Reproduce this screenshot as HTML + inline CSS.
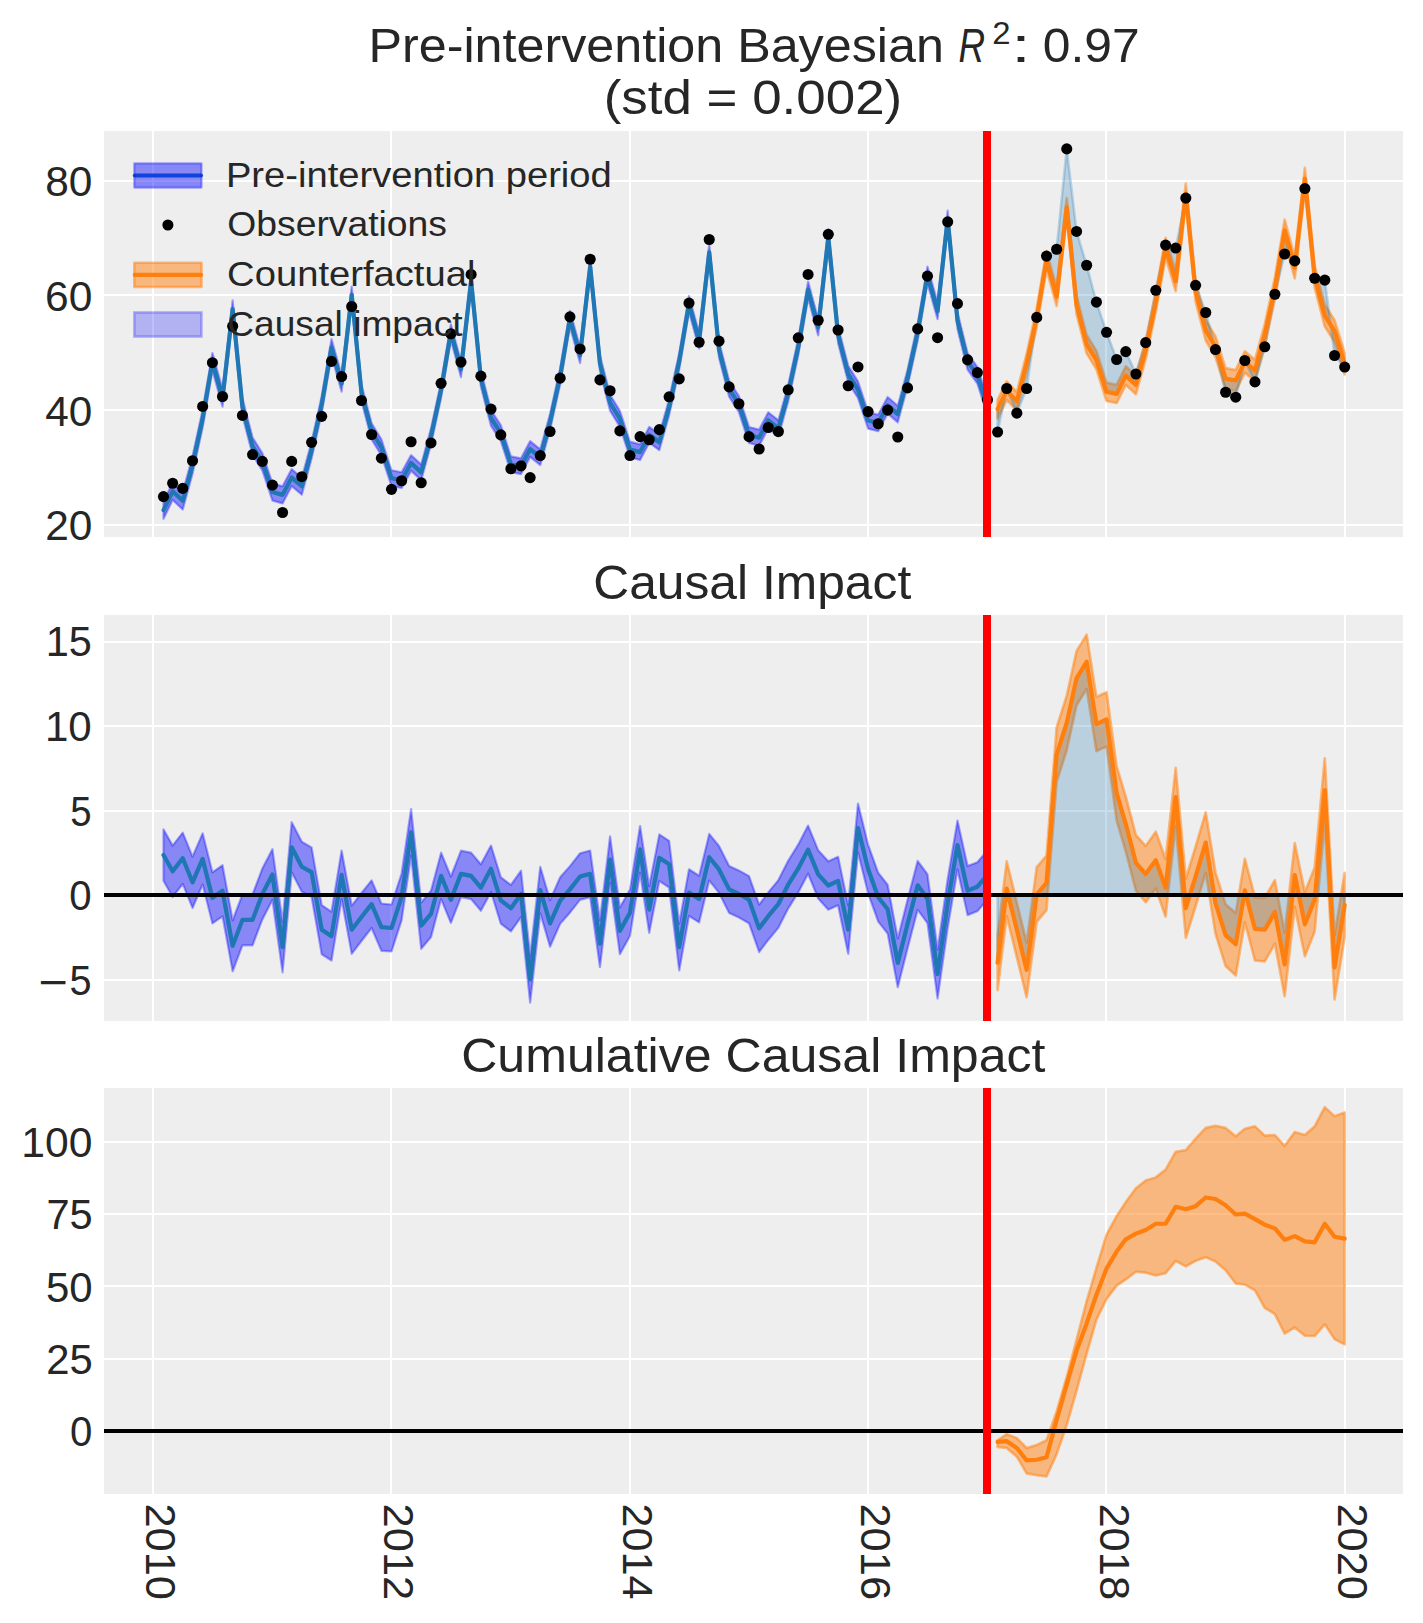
<!DOCTYPE html>
<html><head><meta charset="utf-8"><title>Causal Impact</title>
<style>html,body{margin:0;padding:0;background:#ffffff;width:1423px;height:1623px;overflow:hidden}
svg text{font-family:"Liberation Sans",sans-serif}</style></head>
<body>
<svg width="1423" height="1623" viewBox="0 0 1423 1623" style="display:block">
<defs>
<clipPath id="c0"><rect x="104.0" y="131.0" width="1299.0" height="406.0"/></clipPath>
<clipPath id="c1"><rect x="104.0" y="615.0" width="1299.0" height="406.0"/></clipPath>
<clipPath id="c2"><rect x="104.0" y="1088.0" width="1299.0" height="406.0"/></clipPath>
</defs>
<rect x="0" y="0" width="1423" height="1623" fill="#ffffff"/>
<rect x="104.0" y="131.0" width="1299.0" height="406.0" fill="#eeeeee"/>
<line x1="104.0" x2="1403.0" y1="525.00" y2="525.00" stroke="#ffffff" stroke-width="2"/>
<line x1="104.0" x2="1403.0" y1="410.00" y2="410.00" stroke="#ffffff" stroke-width="2"/>
<line x1="104.0" x2="1403.0" y1="295.00" y2="295.00" stroke="#ffffff" stroke-width="2"/>
<line x1="104.0" x2="1403.0" y1="181.00" y2="181.00" stroke="#ffffff" stroke-width="2"/>
<line x1="153.00" x2="153.00" y1="131.0" y2="537.0" stroke="#ffffff" stroke-width="2"/>
<line x1="391.00" x2="391.00" y1="131.0" y2="537.0" stroke="#ffffff" stroke-width="2"/>
<line x1="630.00" x2="630.00" y1="131.0" y2="537.0" stroke="#ffffff" stroke-width="2"/>
<line x1="868.00" x2="868.00" y1="131.0" y2="537.0" stroke="#ffffff" stroke-width="2"/>
<line x1="1106.00" x2="1106.00" y1="131.0" y2="537.0" stroke="#ffffff" stroke-width="2"/>
<line x1="1345.00" x2="1345.00" y1="131.0" y2="537.0" stroke="#ffffff" stroke-width="2"/>
<g clip-path="url(#c0)">
<polygon points="163.49,501.40 172.63,482.61 182.74,492.14 192.52,456.32 202.64,409.97 212.42,353.06 222.53,389.30 232.65,300.41 242.43,398.37 252.55,437.53 262.33,453.13 272.44,483.40 282.56,486.32 291.69,469.07 301.80,477.83 311.59,441.72 321.70,396.26 331.49,339.17 341.60,375.16 351.71,286.60 361.50,384.95 371.61,423.30 381.40,439.28 391.51,470.23 401.62,472.23 411.08,455.15 421.19,464.55 430.98,428.66 441.09,381.95 450.88,324.28 460.99,361.42 471.10,273.04 480.89,370.82 491.00,410.14 500.79,425.21 510.90,456.39 521.01,458.34 530.14,441.14 540.26,449.33 550.04,413.97 560.15,368.40 569.94,310.85 580.05,347.30 590.17,258.52 599.95,355.49 610.06,394.87 619.85,410.86 629.96,441.64 640.07,444.21 649.21,426.90 659.32,434.35 669.11,399.33 679.22,353.36 689.00,295.98 699.12,332.95 709.23,244.34 719.02,341.86 729.13,380.82 738.91,396.15 749.03,427.02 759.14,429.63 768.27,412.24 778.38,420.36 788.17,385.20 798.28,338.69 808.07,281.63 818.18,319.09 828.29,229.31 838.08,326.55 848.19,365.79 857.98,381.38 868.09,412.15 878.20,414.73 887.66,397.01 897.78,405.78 907.56,369.78 917.67,323.86 927.46,266.60 937.57,302.65 947.68,210.71 957.47,312.27 967.58,353.02 977.37,367.11 987.48,398.29 987.48,414.91 977.37,383.73 967.58,369.62 957.47,328.87 947.68,227.30 937.57,319.23 927.46,283.17 917.67,340.43 907.56,386.33 897.78,422.33 887.66,413.55 878.20,431.26 868.09,428.67 857.98,397.89 848.19,382.30 838.08,343.01 828.29,245.72 818.18,335.45 808.07,297.94 798.28,354.95 788.17,401.41 778.38,436.52 768.27,428.36 759.14,445.70 749.03,443.04 738.91,412.12 729.13,396.73 719.02,357.73 709.23,260.15 699.12,348.76 689.00,311.79 679.22,369.17 669.11,415.13 659.32,450.15 649.21,442.70 640.07,460.01 629.96,457.42 619.85,426.64 610.06,410.65 599.95,371.27 590.17,274.29 580.05,363.07 569.94,326.62 560.15,384.16 550.04,429.73 540.26,465.09 530.14,456.89 521.01,474.08 510.90,472.13 500.79,440.95 491.00,425.87 480.89,386.55 471.10,288.77 460.99,377.15 450.88,340.01 441.09,397.66 430.98,444.38 421.19,480.25 411.08,470.85 401.62,488.04 391.51,486.15 381.40,455.31 371.61,439.43 361.50,401.19 351.71,302.95 341.60,391.61 331.49,355.73 321.70,412.93 311.59,458.49 301.80,494.71 291.69,486.05 282.56,503.41 272.44,500.60 262.33,470.35 252.55,454.77 242.43,415.63 232.65,317.69 222.53,406.59 212.42,370.38 202.64,427.31 192.52,473.69 182.74,509.52 172.63,500.02 163.49,518.83" fill="rgba(0,0,255,0.43)" stroke="rgba(0,0,255,0.34)" stroke-width="2.2" stroke-linejoin="round"/>
<polygon points="997.59,399.84 1006.73,381.36 1016.84,392.06 1026.63,353.90 1036.74,308.34 1046.52,250.97 1056.64,287.49 1066.75,197.98 1076.53,295.60 1086.65,335.04 1096.43,350.87 1106.55,382.63 1116.66,384.70 1125.79,366.30 1135.90,375.47 1145.69,340.21 1155.80,292.46 1165.59,237.72 1175.70,271.36 1185.81,183.61 1195.60,281.44 1205.71,320.01 1215.50,336.46 1225.61,368.15 1235.72,369.92 1244.86,351.29 1254.97,359.70 1264.75,324.32 1274.87,277.76 1284.65,219.68 1294.76,256.86 1304.88,167.83 1314.66,265.82 1324.78,304.78 1334.56,320.13 1344.67,352.78 1344.67,374.56 1334.56,341.87 1324.78,326.49 1314.66,287.50 1304.88,189.47 1294.76,278.47 1284.65,241.25 1274.87,299.30 1264.75,345.82 1254.97,381.17 1244.86,372.73 1235.72,391.12 1225.61,389.11 1215.50,357.18 1205.71,340.50 1195.60,301.69 1185.81,203.61 1175.70,291.13 1165.59,257.25 1155.80,311.76 1145.69,359.27 1135.90,394.29 1125.79,384.88 1116.66,403.05 1106.55,400.99 1096.43,369.25 1086.65,353.44 1076.53,314.01 1066.75,216.41 1056.64,305.95 1046.52,269.45 1036.74,326.83 1026.63,372.41 1016.84,410.59 1006.73,399.91 997.59,418.41" fill="rgba(255,127,14,0.5)" stroke="rgba(255,127,14,0.5)" stroke-width="2.6" stroke-linejoin="round"/>
<polygon points="997.59,432.05 1006.73,388.49 1016.84,413.13 1026.63,388.49 1036.74,317.41 1046.52,256.09 1056.64,249.21 1066.75,148.90 1076.53,231.44 1086.65,265.26 1096.43,302.17 1106.55,332.32 1116.66,359.49 1125.79,351.58 1135.90,373.99 1145.69,342.63 1155.80,290.30 1165.59,245.08 1175.70,248.06 1185.81,198.08 1195.60,285.32 1205.71,312.49 1215.50,349.57 1225.61,392.21 1235.72,397.20 1244.86,360.46 1254.97,381.90 1264.75,346.82 1274.87,294.26 1284.65,253.96 1294.76,260.90 1304.88,188.57 1314.66,278.21 1324.78,280.16 1334.56,355.53 1344.67,367.05 1344.67,363.67 1334.56,331.00 1324.78,315.64 1314.66,276.66 1304.88,178.65 1294.76,267.66 1284.65,230.46 1274.87,288.53 1264.75,335.07 1254.97,370.43 1244.86,362.01 1235.72,380.52 1225.61,378.63 1215.50,346.82 1205.71,330.25 1195.60,291.56 1185.81,193.61 1175.70,281.25 1165.59,247.49 1155.80,302.11 1145.69,349.74 1135.90,384.88 1125.79,375.59 1116.66,393.88 1106.55,391.81 1096.43,360.06 1086.65,344.24 1076.53,304.80 1066.75,207.19 1056.64,296.72 1046.52,260.21 1036.74,317.59 1026.63,363.15 1016.84,401.33 1006.73,390.64 997.59,409.12" fill="rgba(31,119,180,0.25)" stroke="rgba(31,119,180,0.25)" stroke-width="2.6" stroke-linejoin="round"/>
<polyline points="163.49,510.11 172.63,491.31 182.74,500.83 192.52,465.01 202.64,418.64 212.42,361.72 222.53,397.94 232.65,309.05 242.43,407.00 252.55,446.15 262.33,461.74 272.44,492.00 282.56,494.87 291.69,477.56 301.80,486.27 311.59,450.10 321.70,404.59 331.49,347.45 341.60,383.39 351.71,294.77 361.50,393.07 371.61,431.36 381.40,447.29 391.51,478.19 401.62,480.14 411.08,463.00 421.19,472.40 430.98,436.52 441.09,389.81 450.88,332.14 460.99,369.29 471.10,280.90 480.89,378.69 491.00,418.01 500.79,433.08 510.90,464.26 521.01,466.21 530.14,449.01 540.26,457.21 550.04,421.85 560.15,376.28 569.94,318.73 580.05,355.19 590.17,266.40 599.95,363.38 610.06,402.76 619.85,418.75 629.96,449.53 640.07,452.11 649.21,434.80 659.32,442.25 669.11,407.23 679.22,361.26 689.00,303.89 699.12,340.86 709.23,252.25 719.02,349.80 729.13,388.77 738.91,404.14 749.03,435.03 759.14,437.67 768.27,420.30 778.38,428.44 788.17,393.30 798.28,346.82 808.07,289.79 818.18,327.27 828.29,237.51 838.08,334.78 848.19,374.04 857.98,389.63 868.09,420.41 878.20,422.99 887.66,405.28 897.78,414.05 907.56,378.06 917.67,332.14 927.46,274.89 937.57,310.94 947.68,219.00 957.47,320.57 967.58,361.32 977.37,375.42 987.48,406.60" fill="none" stroke="#1f77b4" stroke-width="4.2" stroke-linejoin="round" stroke-linecap="round"/>
<g fill="#000000"><circle cx="163.49" cy="496.59" r="5.55"/><circle cx="172.63" cy="483.29" r="5.55"/><circle cx="182.74" cy="488.39" r="5.55"/><circle cx="192.52" cy="460.71" r="5.55"/><circle cx="202.64" cy="406.43" r="5.55"/><circle cx="212.42" cy="362.69" r="5.55"/><circle cx="222.53" cy="396.51" r="5.55"/><circle cx="232.65" cy="326.24" r="5.55"/><circle cx="242.43" cy="415.43" r="5.55"/><circle cx="252.55" cy="454.57" r="5.55"/><circle cx="262.33" cy="461.39" r="5.55"/><circle cx="272.44" cy="485.07" r="5.55"/><circle cx="282.56" cy="512.52" r="5.55"/><circle cx="291.69" cy="461.39" r="5.55"/><circle cx="301.80" cy="476.70" r="5.55"/><circle cx="311.59" cy="442.37" r="5.55"/><circle cx="321.70" cy="416.34" r="5.55"/><circle cx="331.49" cy="361.38" r="5.55"/><circle cx="341.60" cy="376.57" r="5.55"/><circle cx="351.71" cy="306.52" r="5.55"/><circle cx="361.50" cy="400.52" r="5.55"/><circle cx="371.61" cy="434.46" r="5.55"/><circle cx="381.40" cy="458.19" r="5.55"/><circle cx="391.51" cy="489.37" r="5.55"/><circle cx="401.62" cy="480.77" r="5.55"/><circle cx="411.08" cy="441.79" r="5.55"/><circle cx="421.19" cy="482.77" r="5.55"/><circle cx="430.98" cy="442.94" r="5.55"/><circle cx="441.09" cy="383.33" r="5.55"/><circle cx="450.88" cy="333.75" r="5.55"/><circle cx="460.99" cy="362.12" r="5.55"/><circle cx="471.10" cy="274.43" r="5.55"/><circle cx="480.89" cy="376.16" r="5.55"/><circle cx="491.00" cy="409.12" r="5.55"/><circle cx="500.79" cy="434.91" r="5.55"/><circle cx="510.90" cy="468.73" r="5.55"/><circle cx="521.01" cy="465.87" r="5.55"/><circle cx="530.14" cy="477.62" r="5.55"/><circle cx="540.26" cy="455.55" r="5.55"/><circle cx="550.04" cy="431.48" r="5.55"/><circle cx="560.15" cy="378.17" r="5.55"/><circle cx="569.94" cy="316.84" r="5.55"/><circle cx="580.05" cy="348.94" r="5.55"/><circle cx="590.17" cy="259.24" r="5.55"/><circle cx="599.95" cy="379.89" r="5.55"/><circle cx="610.06" cy="390.78" r="5.55"/><circle cx="619.85" cy="430.90" r="5.55"/><circle cx="629.96" cy="455.55" r="5.55"/><circle cx="640.07" cy="436.63" r="5.55"/><circle cx="649.21" cy="439.73" r="5.55"/><circle cx="659.32" cy="429.64" r="5.55"/><circle cx="669.11" cy="396.80" r="5.55"/><circle cx="679.22" cy="378.92" r="5.55"/><circle cx="689.00" cy="303.09" r="5.55"/><circle cx="699.12" cy="342.23" r="5.55"/><circle cx="709.23" cy="239.46" r="5.55"/><circle cx="719.02" cy="341.14" r="5.55"/><circle cx="729.13" cy="386.88" r="5.55"/><circle cx="738.91" cy="403.79" r="5.55"/><circle cx="749.03" cy="436.63" r="5.55"/><circle cx="759.14" cy="448.96" r="5.55"/><circle cx="768.27" cy="427.46" r="5.55"/><circle cx="778.38" cy="431.48" r="5.55"/><circle cx="788.17" cy="389.81" r="5.55"/><circle cx="798.28" cy="337.82" r="5.55"/><circle cx="808.07" cy="274.43" r="5.55"/><circle cx="818.18" cy="320.28" r="5.55"/><circle cx="828.29" cy="234.30" r="5.55"/><circle cx="838.08" cy="330.02" r="5.55"/><circle cx="848.19" cy="385.74" r="5.55"/><circle cx="857.98" cy="366.94" r="5.55"/><circle cx="868.09" cy="411.59" r="5.55"/><circle cx="878.20" cy="423.74" r="5.55"/><circle cx="887.66" cy="410.10" r="5.55"/><circle cx="897.78" cy="437.04" r="5.55"/><circle cx="907.56" cy="387.91" r="5.55"/><circle cx="917.67" cy="328.88" r="5.55"/><circle cx="927.46" cy="276.15" r="5.55"/><circle cx="937.57" cy="337.70" r="5.55"/><circle cx="947.68" cy="221.87" r="5.55"/><circle cx="957.47" cy="303.66" r="5.55"/><circle cx="967.58" cy="359.83" r="5.55"/><circle cx="977.37" cy="372.61" r="5.55"/><circle cx="987.48" cy="399.78" r="5.55"/></g>
<polyline points="997.59,409.12 1006.73,390.64 1016.84,401.33 1026.63,363.15 1036.74,317.59 1046.52,260.21 1056.64,296.72 1066.75,207.19 1076.53,304.80 1086.65,344.24 1096.43,360.06 1106.55,391.81 1116.66,393.88 1125.79,375.59 1135.90,384.88 1145.69,349.74 1155.80,302.11 1165.59,247.49 1175.70,281.25 1185.81,193.61 1195.60,291.56 1205.71,330.25 1215.50,346.82 1225.61,378.63 1235.72,380.52 1244.86,362.01 1254.97,370.43 1264.75,335.07 1274.87,288.53 1284.65,230.46 1294.76,267.66 1304.88,178.65 1314.66,276.66 1324.78,315.64 1334.56,331.00 1344.67,363.67" fill="none" stroke="#ff7f0e" stroke-width="4.2" stroke-linejoin="round" stroke-linecap="round"/>
<g fill="#000000"><circle cx="997.59" cy="432.05" r="5.55"/><circle cx="1006.73" cy="388.49" r="5.55"/><circle cx="1016.84" cy="413.13" r="5.55"/><circle cx="1026.63" cy="388.49" r="5.55"/><circle cx="1036.74" cy="317.41" r="5.55"/><circle cx="1046.52" cy="256.09" r="5.55"/><circle cx="1056.64" cy="249.21" r="5.55"/><circle cx="1066.75" cy="148.90" r="5.55"/><circle cx="1076.53" cy="231.44" r="5.55"/><circle cx="1086.65" cy="265.26" r="5.55"/><circle cx="1096.43" cy="302.17" r="5.55"/><circle cx="1106.55" cy="332.32" r="5.55"/><circle cx="1116.66" cy="359.49" r="5.55"/><circle cx="1125.79" cy="351.58" r="5.55"/><circle cx="1135.90" cy="373.99" r="5.55"/><circle cx="1145.69" cy="342.63" r="5.55"/><circle cx="1155.80" cy="290.30" r="5.55"/><circle cx="1165.59" cy="245.08" r="5.55"/><circle cx="1175.70" cy="248.06" r="5.55"/><circle cx="1185.81" cy="198.08" r="5.55"/><circle cx="1195.60" cy="285.32" r="5.55"/><circle cx="1205.71" cy="312.49" r="5.55"/><circle cx="1215.50" cy="349.57" r="5.55"/><circle cx="1225.61" cy="392.21" r="5.55"/><circle cx="1235.72" cy="397.20" r="5.55"/><circle cx="1244.86" cy="360.46" r="5.55"/><circle cx="1254.97" cy="381.90" r="5.55"/><circle cx="1264.75" cy="346.82" r="5.55"/><circle cx="1274.87" cy="294.26" r="5.55"/><circle cx="1284.65" cy="253.96" r="5.55"/><circle cx="1294.76" cy="260.90" r="5.55"/><circle cx="1304.88" cy="188.57" r="5.55"/><circle cx="1314.66" cy="278.21" r="5.55"/><circle cx="1324.78" cy="280.16" r="5.55"/><circle cx="1334.56" cy="355.53" r="5.55"/><circle cx="1344.67" cy="367.05" r="5.55"/></g>
<line x1="987.00" x2="987.00" y1="131.0" y2="537.0" stroke="#ff0000" stroke-width="8"/>
</g>
<line x1="134.8" x2="201.0" y1="175.5" y2="175.5" stroke="#1f77b4" stroke-width="4.2" stroke-linecap="round"/>
<rect x="134.3" y="163.4" width="67.20000000000002" height="24.2" fill="rgba(0,0,255,0.43)" stroke="rgba(0,0,255,0.34)" stroke-width="2.2" stroke-linejoin="round"/>
<circle cx="167.9" cy="225.0" r="5.55" fill="#000000"/>
<line x1="134.8" x2="201.0" y1="274.9" y2="274.9" stroke="#ff7f0e" stroke-width="4.2" stroke-linecap="round"/>
<rect x="134.3" y="262.79999999999995" width="67.20000000000002" height="24.2" fill="rgba(255,127,14,0.5)" stroke="rgba(255,127,14,0.5)" stroke-width="2.6" stroke-linejoin="round"/>
<rect x="134.3" y="312.4" width="67.20000000000002" height="24.2" fill="rgba(0,0,255,0.25)" stroke="rgba(0,0,255,0.25)" stroke-width="2.6"/>
<g font-family="Liberation Sans, sans-serif" fill="#262626">
<text x="225.93" y="186.50" font-size="35.8" textLength="385.82" lengthAdjust="spacingAndGlyphs">Pre-intervention period</text>
<text x="227.30" y="235.70" font-size="35.8" textLength="219.70" lengthAdjust="spacingAndGlyphs">Observations</text>
<text x="227.13" y="285.80" font-size="35.8" textLength="248.29" lengthAdjust="spacingAndGlyphs">Counterfactual</text>
<text x="227.18" y="335.50" font-size="35.8" textLength="235.39" lengthAdjust="spacingAndGlyphs">Causal impact</text>
</g>
<rect x="104.0" y="615.0" width="1299.0" height="406.0" fill="#eeeeee"/>
<line x1="104.0" x2="1403.0" y1="980.00" y2="980.00" stroke="#ffffff" stroke-width="2"/>
<line x1="104.0" x2="1403.0" y1="895.00" y2="895.00" stroke="#ffffff" stroke-width="2"/>
<line x1="104.0" x2="1403.0" y1="811.00" y2="811.00" stroke="#ffffff" stroke-width="2"/>
<line x1="104.0" x2="1403.0" y1="726.00" y2="726.00" stroke="#ffffff" stroke-width="2"/>
<line x1="104.0" x2="1403.0" y1="642.00" y2="642.00" stroke="#ffffff" stroke-width="2"/>
<line x1="153.00" x2="153.00" y1="615.0" y2="1021.0" stroke="#ffffff" stroke-width="2"/>
<line x1="391.00" x2="391.00" y1="615.0" y2="1021.0" stroke="#ffffff" stroke-width="2"/>
<line x1="630.00" x2="630.00" y1="615.0" y2="1021.0" stroke="#ffffff" stroke-width="2"/>
<line x1="868.00" x2="868.00" y1="615.0" y2="1021.0" stroke="#ffffff" stroke-width="2"/>
<line x1="1106.00" x2="1106.00" y1="615.0" y2="1021.0" stroke="#ffffff" stroke-width="2"/>
<line x1="1345.00" x2="1345.00" y1="615.0" y2="1021.0" stroke="#ffffff" stroke-width="2"/>
<g clip-path="url(#c1)">
<polygon points="163.49,829.33 172.63,845.61 182.74,832.61 192.52,856.67 202.64,833.35 212.42,872.31 222.53,865.23 232.65,920.26 242.43,894.40 252.55,894.43 262.33,868.57 272.44,849.13 282.56,921.90 291.69,822.20 301.80,841.82 311.59,847.39 321.70,905.09 331.49,911.68 341.60,850.57 351.71,905.57 361.50,893.03 371.61,880.32 381.40,903.50 391.51,904.50 401.62,873.52 411.08,809.19 421.19,902.44 430.98,890.76 441.09,852.67 450.88,876.53 460.99,850.63 471.10,852.65 480.89,864.33 491.00,845.53 500.79,877.18 510.90,884.96 521.01,870.74 530.14,956.20 540.26,866.83 550.04,900.17 560.15,877.31 569.94,866.14 580.05,853.27 590.17,850.55 599.95,920.45 610.06,836.33 619.85,907.58 629.96,889.46 640.07,825.99 649.21,886.23 659.32,834.44 669.11,840.86 679.22,923.79 689.00,869.29 699.12,875.71 709.23,833.90 719.02,846.01 729.13,865.91 738.91,870.41 749.03,876.09 759.14,904.62 768.27,892.36 778.38,880.11 788.17,860.74 798.28,844.42 808.07,825.56 818.18,850.20 828.29,861.30 838.08,856.65 848.19,905.15 857.98,803.59 868.09,844.54 878.20,872.79 887.66,884.80 897.78,938.44 907.56,899.67 917.67,860.90 927.46,874.25 937.57,949.56 947.68,878.97 957.47,820.57 967.58,866.08 977.37,862.18 987.48,850.32 987.48,899.40 977.37,911.24 967.58,915.12 957.47,869.58 947.68,927.96 937.57,998.52 927.46,923.19 917.67,909.81 907.56,948.56 897.78,987.30 887.66,933.64 878.20,921.61 868.09,893.33 857.98,852.36 848.19,953.90 838.08,905.25 828.29,909.75 818.18,898.51 808.07,873.72 798.28,892.44 788.17,908.61 778.38,927.83 768.27,939.95 759.14,952.06 749.03,923.39 738.91,917.56 729.13,912.92 719.02,892.87 709.23,880.61 699.12,922.41 689.00,915.98 679.22,970.47 669.11,887.53 659.32,881.09 649.21,932.88 640.07,872.62 629.96,936.08 619.85,954.19 610.06,882.93 599.95,967.04 590.17,897.13 580.05,899.83 569.94,912.69 560.15,923.86 550.04,946.70 540.26,913.35 530.14,1002.71 521.01,917.23 510.90,931.45 500.79,923.65 491.00,892.00 480.89,910.78 471.10,899.10 460.99,897.06 450.88,922.95 441.09,899.08 430.98,937.15 421.19,948.83 411.08,855.56 401.62,920.21 391.51,951.51 381.40,950.82 371.61,927.96 361.50,940.98 351.71,953.83 341.60,899.15 331.49,960.57 321.70,954.30 311.59,896.91 301.80,891.65 291.69,872.34 282.56,972.36 272.44,899.91 262.33,919.40 252.55,945.33 242.43,945.36 232.65,971.29 222.53,916.31 212.42,923.45 202.64,884.55 192.52,907.94 182.74,883.94 172.63,897.00 163.49,880.78" fill="rgba(0,0,255,0.43)" stroke="rgba(0,0,255,0.34)" stroke-width="2.2" stroke-linejoin="round"/>
<polygon points="997.59,935.28 1006.73,861.26 1016.84,902.50 1026.63,942.47 1036.74,867.19 1046.52,855.54 1056.64,727.44 1066.75,695.65 1076.53,651.17 1086.65,634.61 1096.43,696.92 1106.55,692.21 1116.66,766.37 1125.79,796.65 1135.90,835.06 1145.69,845.88 1155.80,831.65 1165.59,859.05 1175.70,767.82 1185.81,878.66 1195.60,846.66 1205.71,812.29 1215.50,872.53 1225.61,904.17 1235.72,912.95 1244.86,858.78 1254.97,897.15 1264.75,897.94 1274.87,880.12 1284.65,932.54 1294.76,843.12 1304.88,892.33 1314.66,867.56 1324.78,758.18 1334.56,935.33 1344.67,872.83 1344.67,937.14 1334.56,999.55 1324.78,822.29 1314.66,931.57 1304.88,956.23 1294.76,906.93 1284.65,996.25 1274.87,943.73 1264.75,961.45 1254.97,960.55 1244.86,922.08 1235.72,975.55 1225.61,966.06 1215.50,933.72 1205.71,872.78 1195.60,906.44 1185.81,937.74 1175.70,826.19 1165.59,916.73 1155.80,888.62 1145.69,902.15 1135.90,890.63 1125.79,851.52 1116.66,820.53 1106.55,746.43 1096.43,751.19 1086.65,688.94 1076.53,705.55 1066.75,750.09 1056.64,781.94 1046.52,910.09 1036.74,921.80 1026.63,997.14 1016.84,957.23 1006.73,916.04 997.59,990.12" fill="rgba(255,127,14,0.5)" stroke="rgba(255,127,14,0.5)" stroke-width="2.6" stroke-linejoin="round"/>
<polygon points="997.59,962.70 1006.73,888.65 1016.84,929.87 1026.63,969.81 1036.74,894.49 1046.52,882.81 1056.64,754.69 1066.75,722.87 1076.53,678.36 1086.65,661.77 1096.43,724.06 1106.55,719.32 1116.66,793.45 1125.79,824.08 1135.90,862.84 1145.69,874.01 1155.80,860.13 1165.59,887.89 1175.70,797.00 1185.81,908.20 1195.60,876.55 1205.71,842.53 1215.50,903.12 1225.61,935.11 1235.72,944.25 1244.86,890.43 1254.97,928.85 1264.75,929.70 1274.87,911.92 1284.65,964.39 1294.76,875.03 1304.88,924.28 1314.66,899.57 1324.78,790.23 1334.56,967.44 1344.67,904.99 1344.67,895.00 1334.56,895.00 1324.78,895.00 1314.66,895.00 1304.88,895.00 1294.76,895.00 1284.65,895.00 1274.87,895.00 1264.75,895.00 1254.97,895.00 1244.86,895.00 1235.72,895.00 1225.61,895.00 1215.50,895.00 1205.71,895.00 1195.60,895.00 1185.81,895.00 1175.70,895.00 1165.59,895.00 1155.80,895.00 1145.69,895.00 1135.90,895.00 1125.79,895.00 1116.66,895.00 1106.55,895.00 1096.43,895.00 1086.65,895.00 1076.53,895.00 1066.75,895.00 1056.64,895.00 1046.52,895.00 1036.74,895.00 1026.63,895.00 1016.84,895.00 1006.73,895.00 997.59,895.00" fill="rgba(31,119,180,0.25)" stroke="rgba(31,119,180,0.25)" stroke-width="2.6" stroke-linejoin="round"/>
<polyline points="163.49,855.06 172.63,871.30 182.74,858.27 192.52,882.31 202.64,858.95 212.42,897.88 222.53,890.77 232.65,945.77 242.43,919.88 252.55,919.88 262.33,893.98 272.44,874.52 282.56,947.13 291.69,847.27 301.80,866.74 311.59,872.15 321.70,929.70 331.49,936.13 341.60,874.86 351.71,929.70 361.50,917.00 371.61,904.14 381.40,927.16 391.51,928.00 401.62,896.86 411.08,832.38 421.19,925.63 430.98,913.96 441.09,875.87 450.88,899.74 460.99,873.84 471.10,875.87 480.89,887.55 491.00,868.77 500.79,900.42 510.90,908.20 521.01,893.98 530.14,979.46 540.26,890.09 550.04,923.43 560.15,900.59 569.94,889.41 580.05,876.55 590.17,873.84 599.95,943.74 610.06,859.63 619.85,930.88 629.96,912.77 640.07,849.30 649.21,909.56 659.32,857.76 669.11,864.20 679.22,947.13 689.00,892.63 699.12,899.06 709.23,857.26 719.02,869.44 729.13,889.41 738.91,893.98 749.03,899.74 759.14,928.34 768.27,916.16 778.38,903.97 788.17,884.68 798.28,868.43 808.07,849.64 818.18,874.35 828.29,885.52 838.08,880.95 848.19,929.53 857.98,827.98 868.09,868.94 878.20,897.20 887.66,909.22 897.78,962.87 907.56,924.11 917.67,885.35 927.46,898.72 937.57,974.04 947.68,903.46 957.47,845.07 967.58,890.60 977.37,886.71 987.48,874.86" fill="none" stroke="#1f77b4" stroke-width="4.2" stroke-linejoin="round" stroke-linecap="round"/>
<polyline points="997.59,962.70 1006.73,888.65 1016.84,929.87 1026.63,969.81 1036.74,894.49 1046.52,882.81 1056.64,754.69 1066.75,722.87 1076.53,678.36 1086.65,661.77 1096.43,724.06 1106.55,719.32 1116.66,793.45 1125.79,824.08 1135.90,862.84 1145.69,874.01 1155.80,860.13 1165.59,887.89 1175.70,797.00 1185.81,908.20 1195.60,876.55 1205.71,842.53 1215.50,903.12 1225.61,935.11 1235.72,944.25 1244.86,890.43 1254.97,928.85 1264.75,929.70 1274.87,911.92 1284.65,964.39 1294.76,875.03 1304.88,924.28 1314.66,899.57 1324.78,790.23 1334.56,967.44 1344.67,904.99" fill="none" stroke="#ff7f0e" stroke-width="4.2" stroke-linejoin="round" stroke-linecap="round"/>
<line x1="104.0" x2="1403.0" y1="895.00" y2="895.00" stroke="#000000" stroke-width="4.1"/>
<line x1="987.00" x2="987.00" y1="615.0" y2="1021.0" stroke="#ff0000" stroke-width="8"/>
</g>
<rect x="104.0" y="1088.0" width="1299.0" height="406.0" fill="#eeeeee"/>
<line x1="104.0" x2="1403.0" y1="1431.00" y2="1431.00" stroke="#ffffff" stroke-width="2"/>
<line x1="104.0" x2="1403.0" y1="1359.00" y2="1359.00" stroke="#ffffff" stroke-width="2"/>
<line x1="104.0" x2="1403.0" y1="1286.00" y2="1286.00" stroke="#ffffff" stroke-width="2"/>
<line x1="104.0" x2="1403.0" y1="1214.00" y2="1214.00" stroke="#ffffff" stroke-width="2"/>
<line x1="104.0" x2="1403.0" y1="1142.00" y2="1142.00" stroke="#ffffff" stroke-width="2"/>
<line x1="153.00" x2="153.00" y1="1088.0" y2="1494.0" stroke="#ffffff" stroke-width="2"/>
<line x1="391.00" x2="391.00" y1="1088.0" y2="1494.0" stroke="#ffffff" stroke-width="2"/>
<line x1="630.00" x2="630.00" y1="1088.0" y2="1494.0" stroke="#ffffff" stroke-width="2"/>
<line x1="868.00" x2="868.00" y1="1088.0" y2="1494.0" stroke="#ffffff" stroke-width="2"/>
<line x1="1106.00" x2="1106.00" y1="1088.0" y2="1494.0" stroke="#ffffff" stroke-width="2"/>
<line x1="1345.00" x2="1345.00" y1="1088.0" y2="1494.0" stroke="#ffffff" stroke-width="2"/>
<g clip-path="url(#c2)">
<polygon points="997.59,1440.28 1006.73,1434.09 1016.84,1438.11 1026.63,1448.01 1036.74,1444.92 1046.52,1440.28 1056.64,1411.33 1066.75,1376.87 1076.53,1339.76 1086.65,1301.09 1096.43,1267.89 1106.55,1234.59 1116.66,1216.03 1125.79,1202.11 1135.90,1188.20 1145.69,1180.46 1155.80,1177.37 1165.59,1169.64 1175.70,1151.70 1185.81,1150.15 1195.60,1138.71 1205.71,1127.88 1215.50,1125.72 1225.61,1127.88 1235.72,1136.23 1244.86,1128.81 1254.97,1126.33 1264.75,1135.61 1274.87,1135.00 1284.65,1145.82 1294.76,1131.90 1304.88,1135.00 1314.66,1126.33 1324.78,1107.16 1334.56,1116.13 1344.67,1112.42 1344.67,1344.39 1334.56,1339.14 1324.78,1324.29 1314.66,1336.04 1304.88,1335.73 1294.76,1327.38 1284.65,1333.57 1274.87,1314.08 1264.75,1307.90 1254.97,1290.27 1244.86,1284.70 1235.72,1283.46 1225.61,1270.16 1215.50,1261.50 1205.71,1257.17 1195.60,1260.88 1185.81,1266.45 1175.70,1260.88 1165.59,1273.25 1155.80,1275.42 1145.69,1272.64 1135.90,1271.71 1125.79,1279.44 1116.66,1285.63 1106.55,1298.93 1096.43,1319.65 1086.65,1353.67 1076.53,1390.79 1066.75,1424.81 1056.64,1454.20 1046.52,1476.47 1036.74,1475.23 1026.63,1473.37 1016.84,1456.67 1006.73,1448.01 997.59,1447.08" fill="rgba(255,127,14,0.5)" stroke="rgba(255,127,14,0.5)" stroke-width="2.6" stroke-linejoin="round"/>
<polyline points="997.59,1441.83 1006.73,1441.21 1016.84,1448.01 1026.63,1460.38 1036.74,1459.77 1046.52,1457.29 1056.64,1420.01 1066.75,1384.44 1076.53,1350.89 1086.65,1323.42 1096.43,1294.79 1106.55,1268.61 1116.66,1251.60 1125.79,1239.23 1135.90,1233.66 1145.69,1229.95 1155.80,1223.77 1165.59,1223.77 1175.70,1206.75 1185.81,1209.23 1195.60,1206.14 1205.71,1197.47 1215.50,1199.02 1225.61,1205.21 1235.72,1214.49 1244.86,1213.56 1254.97,1219.13 1264.75,1224.69 1274.87,1228.41 1284.65,1239.85 1294.76,1236.14 1304.88,1241.40 1314.66,1242.32 1324.78,1223.77 1334.56,1236.76 1344.67,1238.61" fill="none" stroke="#ff7f0e" stroke-width="4.2" stroke-linejoin="round" stroke-linecap="round"/>
<line x1="104.0" x2="1403.0" y1="1431.00" y2="1431.00" stroke="#000000" stroke-width="4.1"/>
<line x1="987.00" x2="987.00" y1="1088.0" y2="1494.0" stroke="#ff0000" stroke-width="8"/>
</g>
<g font-family="Liberation Sans, sans-serif" fill="#262626">
<text x="45.21" y="540.20" font-size="43.3" textLength="47.19" lengthAdjust="spacingAndGlyphs">20</text>
<text x="45.34" y="425.57" font-size="43.3" textLength="47.05" lengthAdjust="spacingAndGlyphs">40</text>
<text x="45.08" y="310.93" font-size="43.3" textLength="47.32" lengthAdjust="spacingAndGlyphs">60</text>
<text x="45.21" y="196.30" font-size="43.3" textLength="47.19" lengthAdjust="spacingAndGlyphs">80</text>
<text x="38.52" y="996.90" font-size="43.3" textLength="29.47" lengthAdjust="spacingAndGlyphs">−</text>
<text x="69.60" y="994.92" font-size="43.3" textLength="22.06" lengthAdjust="spacingAndGlyphs">5</text>
<text x="69.21" y="910.30" font-size="43.3" textLength="22.35" lengthAdjust="spacingAndGlyphs">0</text>
<text x="70.26" y="825.67" font-size="43.3" textLength="21.34" lengthAdjust="spacingAndGlyphs">5</text>
<text x="44.89" y="741.05" font-size="43.3" textLength="46.80" lengthAdjust="spacingAndGlyphs">10</text>
<text x="45.66" y="656.42" font-size="43.3" textLength="46.12" lengthAdjust="spacingAndGlyphs">15</text>
<text x="70.11" y="1446.30" font-size="43.3" textLength="22.35" lengthAdjust="spacingAndGlyphs">0</text>
<text x="46.16" y="1374.00" font-size="43.3" textLength="46.53" lengthAdjust="spacingAndGlyphs">25</text>
<text x="45.92" y="1301.70" font-size="43.3" textLength="46.66" lengthAdjust="spacingAndGlyphs">50</text>
<text x="46.42" y="1229.40" font-size="43.3" textLength="46.26" lengthAdjust="spacingAndGlyphs">75</text>
<text x="21.37" y="1157.10" font-size="43.3" textLength="71.16" lengthAdjust="spacingAndGlyphs">100</text>
<text transform="translate(146.20,1505.60) rotate(90)" x="-2.13" y="0" font-size="43.3" textLength="96.34" lengthAdjust="spacingAndGlyphs">2010</text>
<text transform="translate(384.47,1505.60) rotate(90)" x="-2.14" y="0" font-size="43.3" textLength="96.87" lengthAdjust="spacingAndGlyphs">2012</text>
<text transform="translate(623.07,1505.60) rotate(90)" x="-2.12" y="0" font-size="43.3" textLength="95.95" lengthAdjust="spacingAndGlyphs">2014</text>
<text transform="translate(861.33,1505.60) rotate(90)" x="-2.13" y="0" font-size="43.3" textLength="96.60" lengthAdjust="spacingAndGlyphs">2016</text>
<text transform="translate(1099.93,1505.60) rotate(90)" x="-2.13" y="0" font-size="43.3" textLength="96.60" lengthAdjust="spacingAndGlyphs">2018</text>
<text transform="translate(1338.20,1505.60) rotate(90)" x="-2.13" y="0" font-size="43.3" textLength="96.34" lengthAdjust="spacingAndGlyphs">2020</text>
<text x="368.52" y="62.10" font-size="47.7" textLength="575.36" lengthAdjust="spacingAndGlyphs">Pre-intervention Bayesian</text>
<text x="958.54" y="62.10" font-size="47.7" textLength="26.60" lengthAdjust="spacingAndGlyphs" font-style="italic">R</text>
<text x="992.31" y="44.40" font-size="31.0" textLength="18.27" lengthAdjust="spacingAndGlyphs">2</text>
<text x="1011.18" y="62.10" font-size="47.7" textLength="19.46" lengthAdjust="spacingAndGlyphs">:</text>
<text x="1042.75" y="62.10" font-size="47.7" textLength="96.89" lengthAdjust="spacingAndGlyphs">0.97</text>
<text x="603.68" y="114.40" font-size="47.7" textLength="298.55" lengthAdjust="spacingAndGlyphs">(std = 0.002)</text>
<text x="593.23" y="599.10" font-size="47.7" textLength="318.04" lengthAdjust="spacingAndGlyphs">Causal Impact</text>
<text x="461.21" y="1071.80" font-size="47.7" textLength="584.25" lengthAdjust="spacingAndGlyphs">Cumulative Causal Impact</text>
</g>
</svg>
</body></html>
